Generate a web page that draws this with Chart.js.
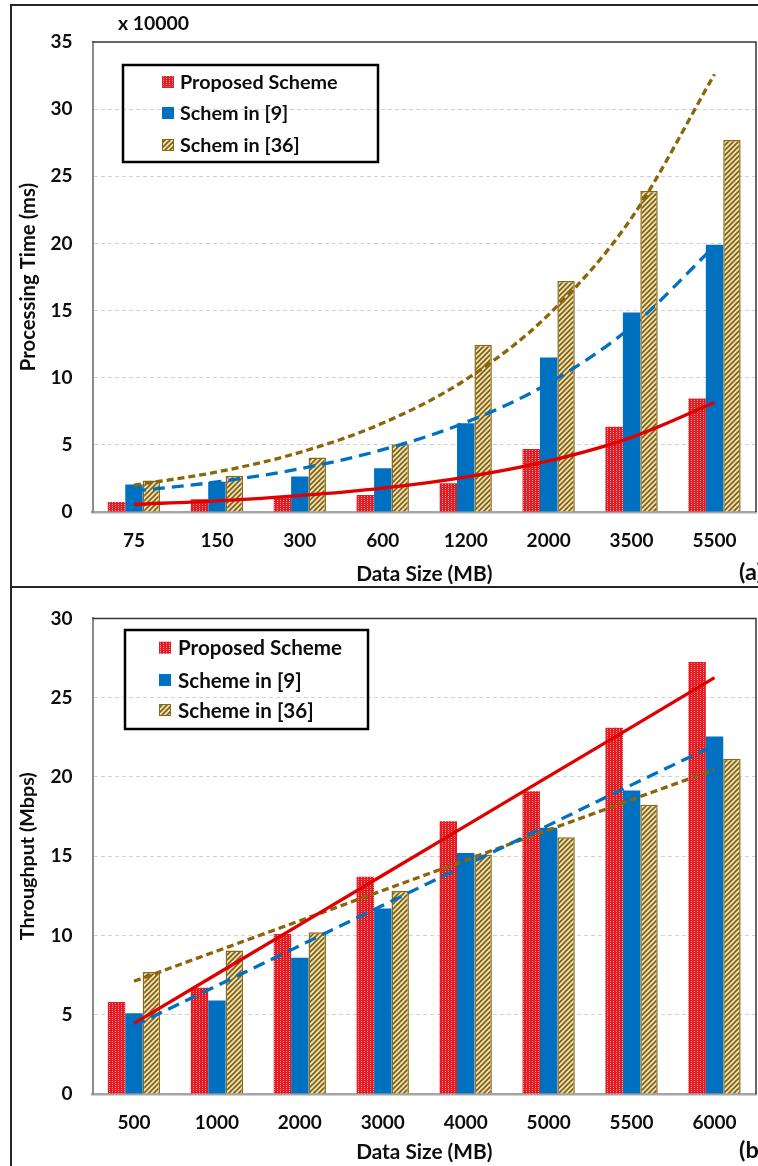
<!DOCTYPE html>
<html><head><meta charset="utf-8">
<script src="https://cdn.jsdelivr.net/npm/chart.js@4.4.0/dist/chart.umd.min.js"></script>
<style>
html,body{margin:0;padding:0;background:#fff;}
body{width:758px;height:1166px;position:relative;overflow:hidden;}
#frame{position:absolute;left:10px;top:4px;width:800px;height:1200px;border:2px solid #262626;box-sizing:border-box;}
#sep{position:absolute;left:10px;top:586px;width:800px;height:0;border-top:2px solid #262626;}
#c1{position:absolute;left:0;top:0;width:758px;height:587px;}
#c2{position:absolute;left:0;top:587px;width:758px;height:579px;}
</style></head><body>
<div id="frame"></div><div id="sep"></div>
<canvas id="c1" width="758" height="587"></canvas>
<canvas id="c2" width="758" height="579"></canvas>
<script>
// ---------- Panel (a): Processing Time (x 10000 ms) ----------
const sizesA = ['75','150','300','600','1200','2000','3500','5500'];
const proposedA = [0.75,0.95,1.15,1.27,2.15,4.7,6.35,8.45];
const schem9A = [2.05,2.25,2.65,3.25,6.6,11.5,14.85,19.9];
const schem36A = [2.35,2.7,4.05,5.05,12.45,17.2,23.9,27.7];
// trendlines (exponential) read at each category
const trendProposedA = [0.57,0.83,1.22,1.78,2.6,3.8,5.56,8.15];
const trend9A = [1.56,2.24,3.22,4.64,6.67,9.59,13.8,19.8];
const trend36A = [2.0,2.98,4.44,6.62,9.86,14.7,21.9,32.6];
const yTicksA = [0,5,10,15,20,25,30,35];
const labelsA = ['Proposed Scheme','Schem in [9]','Schem in [36]'];

// ---------- Panel (b): Throughput (Mbps) ----------
const sizesB = ['500','1000','2000','3000','4000','5000','5500','6000'];
const proposedB = [5.8,6.7,10.1,13.7,17.2,19.1,23.1,27.25];
const scheme9B = [5.1,5.9,8.6,11.7,15.2,16.8,19.15,22.55];
const scheme36B = [7.7,9.05,10.2,12.8,15.1,16.2,18.25,21.15];
// trendlines (linear) read at each category
const trendProposedB = [4.45,7.57,10.68,13.8,16.91,20.03,23.14,26.26];
const trend9B = [4.3,6.83,9.36,11.9,14.43,16.96,19.5,22.0];
const trend36B = [7.11,9.02,10.93,12.84,14.75,16.66,18.56,20.47];
const yTicksB = [0,5,10,15,20,25,30];
const labelsB = ['Proposed Scheme','Scheme in [9]','Scheme in [36]'];

const F = 'Lato, "Liberation Sans", sans-serif';
const TXT = '#0d0d0d';
const RED = '#e31b23', BLUE = '#0070c0', GOLD = '#8b6914', GOLDLINE = '#8c6508';

// font sizes fitted to the reference text widths
const mctx = document.createElement('canvas').getContext('2d');
function fit(text, target){ mctx.font = 'bold 100px '+F; return Math.round(1000*target/mctx.measureText(text).width)/10; }
const TICK = fit('5500', 44);
const XT = fit('Data Size (MB)', 136);
const YTA = fit('Processing Time (ms)', 188);
const YTB = fit('Throughput (Mbps)', 168);
const LGA = fit('Proposed Scheme', 158);
const LGB = fit('Proposed Scheme', 164);
const X10 = fit('x 10000', 71);
const PANEL = fit('(a)', 24);

function redPattern(){
  const c=document.createElement('canvas'); c.width=3; c.height=2;
  const x=c.getContext('2d');
  x.fillStyle=RED; x.fillRect(0,0,3,2);
  x.fillStyle='#f59a9e'; x.fillRect(1,0,1,1);
  return x.createPattern(c,'repeat');
}
function goldPattern(){
  const s=5; const c=document.createElement('canvas'); c.width=s; c.height=s;
  const x=c.getContext('2d');
  x.fillStyle='#eee0b4'; x.fillRect(0,0,s,s);
  x.strokeStyle='#7e5f12'; x.lineWidth=1.6;
  x.beginPath();
  x.moveTo(-1,s+1); x.lineTo(s+1,-1);
  x.moveTo(-2,2); x.lineTo(2,-2);
  x.moveTo(s-2,s+2); x.lineTo(s+2,s-2);
  x.stroke();
  return x.createPattern(c,'repeat');
}
const RP = redPattern(), GP = goldPattern();

const framePlugin = {
  id:'frameDeco',
  afterDraw(chart, args, opts){
    const {ctx, chartArea:a} = chart;
    ctx.save();
    ctx.strokeStyle='#333'; ctx.lineWidth=1.5;
    ctx.beginPath(); ctx.moveTo(a.left,a.top); ctx.lineTo(a.right,a.top); ctx.lineTo(a.right,a.bottom); ctx.stroke();
    const L = opts.legend;
    ctx.lineWidth=2.5; ctx.strokeStyle='#000';
    ctx.strokeRect(L.x,L.y,L.w,L.h);
    const bars = chart.data.datasets.filter(d=>d.type!=='line');
    ctx.font = 'bold '+L.size+'px '+F; ctx.textBaseline='middle'; ctx.textAlign='left';
    bars.forEach((d,i)=>{
      const cy = L.rows[i];
      ctx.fillStyle = d.backgroundColor;
      ctx.fillRect(L.sx, cy-6, 12, 12);
      if (d.borderWidth){ ctx.lineWidth=1; ctx.strokeStyle=d.borderColor; ctx.strokeRect(L.sx+0.5, cy-5.5, 11, 11); }
      ctx.fillStyle = TXT;
      ctx.fillText(d.label, L.tx, cy+1);
    });
    (opts.texts||[]).forEach(t=>{
      ctx.font = 'bold '+t.size+'px '+F; ctx.fillStyle=TXT; ctx.textAlign='left'; ctx.textBaseline='middle';
      ctx.fillText(t.text, t.x, t.y);
    });
    ctx.restore();
  }
};

function makeChart(id, cats, red, blue, gold, tr, tb, tg, names, ymax, yticks, ytitle, ytSize, areaTop, axisH, titleOff, legend, texts, tension){
  const lineBase = {type:'line', pointRadius:0, fill:false, borderWidth:3.3, order:1,
                    tension: tension, cubicInterpolationMode: tension? 'monotone':'default'};
  return new Chart(document.getElementById(id), {
    type:'bar',
    data:{
      labels: cats,
      datasets:[
        {label:names[0], data:red, backgroundColor:RP, borderWidth:0, order:2},
        {label:names[1], data:blue, backgroundColor:BLUE, borderWidth:0, order:2},
        {label:names[2], data:gold, backgroundColor:GP, borderColor:GOLD, borderWidth:1.5, order:2},
        Object.assign({}, lineBase, {label:'trend1', data:tr, borderColor:'#e00000'}),
        Object.assign({}, lineBase, {label:'trend2', data:tb, borderColor:BLUE, borderDash:[12,7]}),
        Object.assign({}, lineBase, {label:'trend3', data:tg, borderColor:GOLDLINE, borderDash:[7,4]})
      ]
    },
    options:{
      responsive:false, animation:false, events:[],
      datasets:{bar:{categoryPercentage:0.63, barPercentage:1.0}},
      layout:{padding:{top:areaTop, right:2, left:0, bottom:0}},
      plugins:{legend:{display:false}, tooltip:{enabled:false},
        frameDeco:{legend:legend, texts:texts}},
      scales:{
        x:{
          grid:{display:false, drawTicks:false},
          border:{display:true, color:'#a6a6a6', width:2.5},
          ticks:{font:{family:F,size:TICK,weight:'bold'}, color:TXT, padding:29-0.6*TICK, maxRotation:0, autoSkip:false},
          title:{display:true, text:'Data Size (MB)', font:{family:F,size:XT,weight:'bold'}, color:TXT, padding:{top:0,bottom:Math.max(0,titleOff-0.6*XT)}},
          afterFit(s){ s.height = axisH; }
        },
        y:{
          min:0, max:ymax,
          afterBuildTicks(s){ s.ticks = yticks.map(v=>({value:v})); },
          grid:{drawTicks:false, color:(c)=> (c.tick && (c.tick.value===0 || c.tick.value===ymax)) ? 'rgba(0,0,0,0)' : '#d2d2d2', lineWidth:1},
          border:{display:true, color:'#8c8c8c', width:2, dash:[4,3]},
          ticks:{font:{family:F,size:TICK,weight:'bold'}, color:TXT, padding:20},
          title:{display:true, text:ytitle, font:{family:F,size:ytSize,weight:'bold'}, color:TXT, padding:{top:28-0.6*ytSize,bottom:0}},
          afterFit(s){ s.width = 92.5; }
        }
      }
    },
    plugins:[framePlugin]
  });
}

makeChart('c1', sizesA, proposedA, schem9A, schem36A, trendProposedA, trend9A, trend36A, labelsA,
  35, yTicksA, 'Processing Time (ms)', YTA, 42, 75, 13,
  {x:123, y:65, w:255, h:97, rows:[82,113,145], sx:162, tx:180, size:LGA},
  [{text:'x 10000', x:118, y:24, size:X10},{text:'(a)', x:739, y:572, size:PANEL}], 0.4);

makeChart('c2', sizesB, proposedB, scheme9B, scheme36B, trendProposedB, trend9B, trend36B, labelsB,
  30, yTicksB, 'Throughput (Mbps)', YTB, 20.7, 72, 14,
  {x:125, y:43, w:243, h:99, rows:[60.7,93,123], sx:159, tx:178, size:LGB},
  [{text:'(b)', x:739, y:563, size:PANEL}], 0);
</script>
</body></html>
